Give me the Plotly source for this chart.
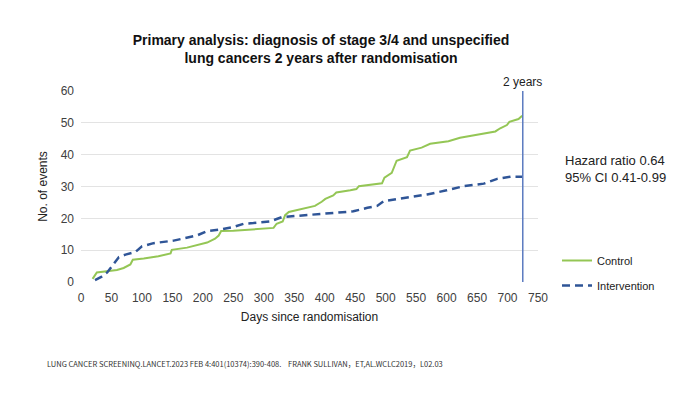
import plotly.graph_objects as go

# cumulative events
control_days = [19, 26, 59, 70, 81, 85, 103, 127, 147, 149, 174, 207, 220, 226, 230, 250,
                316, 321, 331, 335, 341, 365, 384, 395, 401, 414, 419, 442, 452, 456, 494,
                498, 510, 518, 535, 540, 559, 573, 603, 622, 680, 688, 699, 703, 718, 724]
control_events = [1, 3, 3.8, 4.4, 5.5, 7, 7.4, 8.1, 9, 10.1, 10.8, 12.4, 13.6, 14.6, 16, 16.1,
                  17, 18.3, 19, 21, 22, 23, 23.9, 25.2, 26.1, 27.2, 28.1, 28.8, 29.2, 30.1, 31,
                  32.8, 34.3, 38.1, 39.2, 41.3, 42.2, 43.4, 44.2, 45.3, 47.3, 48.3, 49.3, 50.3, 51.2, 52.2]

intervention_days = [23, 34, 43, 54, 62, 73, 89, 100, 119, 152, 190, 207, 229, 250, 267, 283,
                     310, 330, 387, 447, 470, 486, 497, 535, 568, 600, 628, 661, 683, 705, 724]
intervention_events = [0.6, 1.7, 3, 5.7, 7.8, 8.6, 9.4, 11.2, 12.2, 13, 14.6, 16, 16.5, 17.3, 18.3, 18.5,
                       19, 20.4, 21.3, 22.2, 23.3, 23.9, 25.4, 26.5, 27.5, 28.8, 30.1, 30.9, 32.4, 33.1, 33.1]

cutoff_day = 725
title = "Primary analysis: diagnosis of stage 3/4 and unspecified<br>lung cancers 2 years after randomisation"
source = ("LUNG CANCER SCREENINQ.LANCET.2023 FEB 4:401(10374):390-408.    "
          "FRANK SULLIVAN\uff0cET,AL.WCLC2019\uff0cL02.03")

font = "Liberation Sans, Arial, sans-serif"

# page has an 8px body margin, so the figure is a bit smaller than the window
W, H = 682, 397
L, T = 73, 83
pw, ph = 457, 191
R, B = W - L - pw, H - T - ph


def px(x, y):
    # page pixel -> paper coords
    return (x - 8 - L) / pw, (T + ph - (y - 8)) / ph


fig = go.Figure()
fig.add_trace(go.Scatter(x=control_days, y=control_events, mode="lines", name="Control",
                         legendgroup="a", line=dict(color="#94c655", width=2)))
fig.add_trace(go.Scatter(x=intervention_days, y=intervention_events, mode="lines", name="Intervention",
                         legendgroup="b", line=dict(color="#2f5597", width=2.5, dash="8px,5px")))

fig.add_shape(type="line", x0=cutoff_day, x1=cutoff_day, y0=0, y1=60, xref="x", yref="y",
              line=dict(color="#5b7bc0", width=1.5))
fig.add_annotation(x=cutoff_day, y=60, xref="x", yref="y", text="2 years", showarrow=False,
                   yanchor="bottom", font=dict(size=12, color="#222"))

hx, hy = px(563, 169)
fig.add_annotation(x=hx, y=hy, xref="paper", yref="paper", text="Hazard ratio 0.64<br>95% CI 0.41-0.99",
                   showarrow=False, xanchor="left", yanchor="middle", align="left",
                   font=dict(size=13, color="#222"))
sx, sy = px(45, 363)
fig.add_annotation(x=sx, y=sy, xref="paper", yref="paper", text=source, showarrow=False,
                   xanchor="left", yanchor="middle",
                   font=dict(size=7.5, color="#333", family="Noto Sans CJK SC"))

lx, ly = px(557, 246)
fig.update_layout(
    width=W, height=H,
    margin=dict(l=L, r=R, t=T, b=B, autoexpand=False),
    paper_bgcolor="white", plot_bgcolor="white",
    font=dict(family=font, color="#404040", size=12),
    title=dict(text="<b>" + title + "</b>", x=313 / W, xanchor="center", y=1 - 37 / H, yanchor="top",
               font=dict(size=14, color="#111")),
    xaxis=dict(range=[0, 750], dtick=50, showgrid=False, zeroline=False, showline=False, ticks="",
               ticklabelstandoff=7,
               title=dict(text="Days since randomisation", standoff=8, font=dict(size=12, color="#222")),
               tickfont=dict(size=12, color="#404040")),
    yaxis=dict(range=[0, 60], dtick=10, showgrid=True, gridcolor="#e3e3e3", gridwidth=1,
               zeroline=False, showline=False, ticks="", ticklabelstandoff=6,
               title=dict(text="No. of events", standoff=10, font=dict(size=12, color="#222")),
               tickfont=dict(size=12, color="#404040")),
    legend=dict(x=lx, y=ly, xanchor="left", yanchor="top",
                bgcolor="rgba(0,0,0,0)", font=dict(size=11, color="#222"),
                traceorder="grouped", tracegroupgap=6, itemwidth=30),
)

fig.write_html("out.html")
